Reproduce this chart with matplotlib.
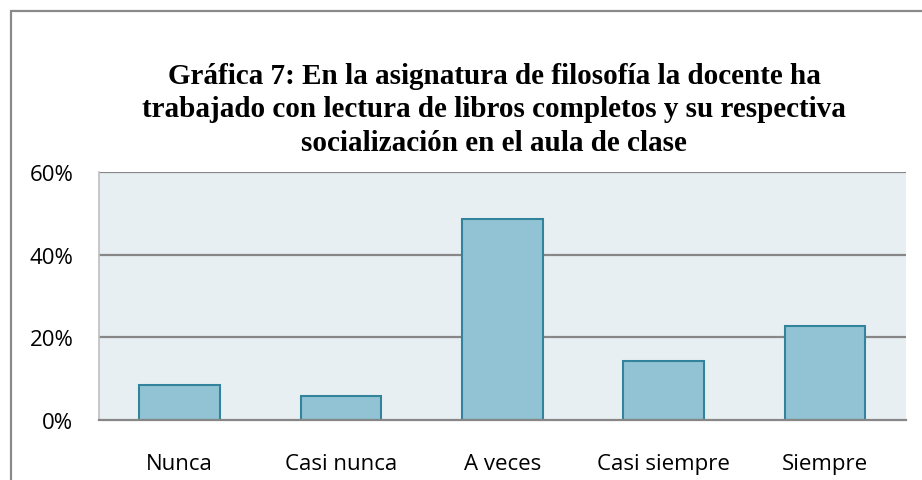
import matplotlib
matplotlib.use("Agg")
import matplotlib.pyplot as plt
from matplotlib.patches import Rectangle
from matplotlib.ticker import FuncFormatter

categories = ["Nunca", "Casi nunca", "A veces", "Casi siempre", "Siempre"]
values = [8.57, 5.71, 48.57, 14.29, 22.86]
y_ticks = [0, 20, 40, 60]
title = ("Gráfica 7: En la asignatura de filosofía la docente ha\n"
         "trabajado con lectura de libros completos y su respectiva\n"
         "socialización en el aula de clase")

W, H = 922, 481
fig = plt.figure(figsize=(W / 100, H / 100), dpi=100)
fig.patch.set_facecolor("white")

# outer frame (clipped at right/bottom like the reference)
fig.patches.append(Rectangle((11 / W, -0.1), 1.2, (H - 12) / H + 0.1,
                             transform=fig.transFigure, fill=False,
                             edgecolor="#8a8a8a", linewidth=1.6))

x0, x1, y_top, y_bot = 99, 905.5, 173, 421
ax = fig.add_axes([x0 / W, (H - y_bot) / H, (x1 - x0) / W, (y_bot - y_top) / H])
ax.set_facecolor("#e8eff3")

ax.bar(range(len(categories)), values, width=0.5, color="#92c3d4",
       edgecolor="#31849b", linewidth=1.5, zorder=3)

ax.set_xlim(-0.5, len(categories) - 0.5)
ax.set_ylim(0, 60)
ax.set_yticks(y_ticks)
ax.yaxis.set_major_formatter(FuncFormatter(lambda v, p: f"{int(v)}%"))
ax.set_xticks(range(len(categories)))
ax.set_xticklabels(categories)

for t in y_ticks[1:]:
    ax.axhline(t, color="#878787", linewidth=1.6, zorder=2)

for s in ["top", "right"]:
    ax.spines[s].set_visible(False)
ax.spines["left"].set_color("#bfbfbf")
ax.spines["left"].set_linewidth(1.2)
ax.spines["bottom"].set_color("#878787")
ax.spines["bottom"].set_linewidth(1.6)
ax.spines["bottom"].set_zorder(4)

ax.tick_params(axis="both", length=0, labelsize=16, colors="black")
ax.tick_params(axis="y", pad=18.5)
ax.tick_params(axis="x", pad=23.5)
for lab in ax.get_xticklabels() + ax.get_yticklabels():
    lab.set_fontfamily("Open Sans")

fig.text(494 / W, 1 - 63 / H, title, ha="center", va="top",
         fontsize=21, fontweight="bold", family="Liberation Serif",
         linespacing=1.3)

fig.savefig("out.png", dpi=100)
